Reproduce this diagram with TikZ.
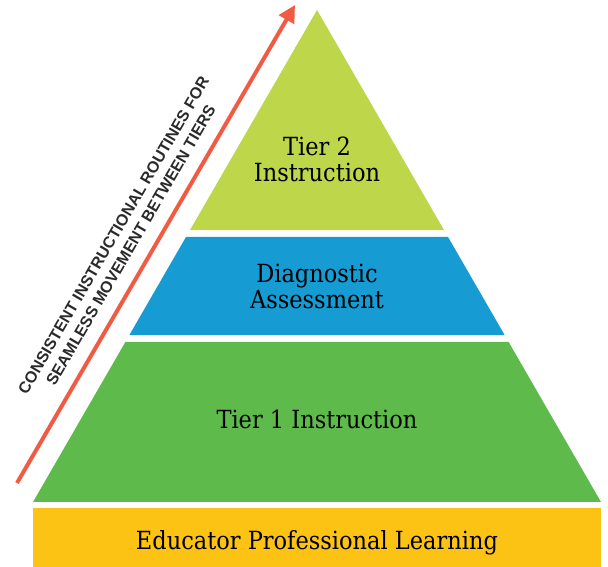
\documentclass[tikz,border=0pt]{standalone}
\usepackage{fontspec}
\setmainfont[FakeStretch=0.9]{DejaVu Serif}
\setsansfont{Liberation Sans}
\usepackage{tikz}
\usetikzlibrary{arrows.meta, positioning, calc}
\definecolor{tiertwo}{HTML}{BDD64A}
\definecolor{diag}{HTML}{169BD2}
\definecolor{tierone}{HTML}{5EBB4B}
\definecolor{edu}{HTML}{FCC315}
\definecolor{routine}{HTML}{F15B43}
\definecolor{caption}{HTML}{2A2A2A}
\tikzset{layertext/.style={align=center,text=black,font=\fontsize{25}{26}\selectfont,inner sep=0pt},
         sidenote/.style={align=center,text=caption,font=\sffamily\bfseries\fontsize{16}{20}\selectfont,inner sep=0pt},
         arrow/.style={-{Triangle[length=17pt,width=17pt]},line width=4pt,routine}}

\begin{document}
\begin{tikzpicture}[x=1pt,y=1pt]
    \useasboundingbox (0,0) rectangle (608,567);
    % Pyramid outline
    \coordinate (apex) at (317,557);
    \coordinate (baseL) at (33,65);
    \coordinate (baseR) at (601,65);
    % Layers
    \fill[tiertwo] (apex) -- ($(apex)!0.4472!(baseR)$) -- ($(apex)!0.4472!(baseL)$) -- cycle;
    \fill[diag] ($(apex)!0.4614!(baseL)$) -- ($(apex)!0.4614!(baseR)$) -- ($(apex)!0.6606!(baseR)$) -- ($(apex)!0.6606!(baseL)$) -- cycle;
    \fill[tierone] ($(apex)!0.6748!(baseL)$) -- ($(apex)!0.6748!(baseR)$) -- (baseR) -- (baseL) -- cycle;
    \fill[edu] (33,0) rectangle (601,59);
    % Layer labels
    \node[layertext] (tier2) at (317,408) {Tier 2\\Instruction};
    \node[layertext] (diagnostic) at (317,280.5) {Diagnostic\\Assessment};
    \node[layertext,anchor=base] (tier1) at (317,138) {Tier 1 Instruction};
    \node[layertext,anchor=base] (educator) at (317,17) {Educator Professional Learning};
    % Side arrow
    \coordinate (tail) at (17,84);
    \coordinate (tip) at (295,562);
    \draw[arrow] (tail) -- (tip);
    \coordinate (mid) at ($(tail)!0.475!(tip)$);
    \node[sidenote,rotate=59.8] (routines) at ($(mid)!31pt!90:(tip)$) {CONSISTENT INSTRUCTIONAL ROUTINES FOR\\SEAMLESS MOVEMENT BETWEEN TIERS};
\end{tikzpicture}
\end{document}
